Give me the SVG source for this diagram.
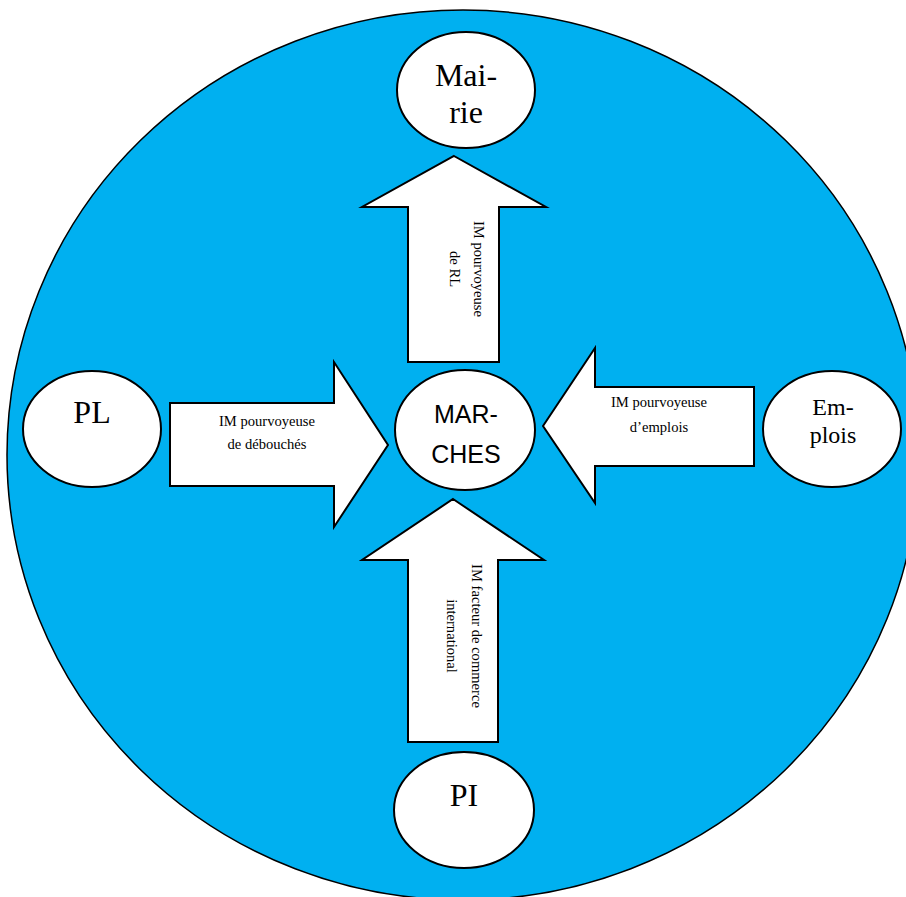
<svg xmlns="http://www.w3.org/2000/svg" width="906" height="897" viewBox="0 0 906 897">
<style>
.node{fill:#ffffff;stroke:#000000;stroke-width:2}
.arrow{fill:#ffffff;stroke:#000000;stroke-width:2;stroke-linejoin:miter}
.big{font-family:"Liberation Serif",serif;font-size:32px;fill:#000;text-anchor:middle}
.mid{font-family:"Liberation Serif",serif;font-size:24px;fill:#000;text-anchor:middle}
.sans{font-family:"Liberation Sans",Arial,sans-serif;font-size:25px;fill:#000;text-anchor:middle}
.lbl{font-family:"Liberation Serif",serif;font-size:14.6px;fill:#000;text-anchor:middle}
</style>
<rect width="906" height="897" fill="#ffffff"/>
<g id="background">
<ellipse cx="463" cy="455" rx="456" ry="445" fill="#00B0F0" stroke="#000" stroke-width="1.5"/>
</g>
<g id="connectors">
<g id="arrow-top">
<polygon class="arrow" points="454,156 546,207 499,207 499,362 408,362 408,207 362,207"/>
<g transform="translate(474,269) rotate(90)">
<text class="lbl" x="0" y="0">IM pourvoyeuse</text>
<text class="lbl" x="0" y="24">de RL</text>
</g>
</g>
<g id="arrow-left">
<polygon class="arrow" points="170,403 334,403 334,362 388,445 334,527 334,486 170,486"/>
<text class="lbl" x="267" y="426">IM pourvoyeuse</text>
<text class="lbl" x="267" y="449">de débouchés</text>
</g>
<g id="arrow-right">
<polygon class="arrow" points="543,426 595,348 595,387 754,387 754,466 595,466 595,503"/>
<text class="lbl" x="659" y="407">IM pourvoyeuse</text>
<text class="lbl" x="659" y="432">d’emplois</text>
</g>
<g id="arrow-bottom">
<polygon class="arrow" points="453,499 544,560 498,560 498,742 408,742 408,560 362,560"/>
<g transform="translate(472,636) rotate(90)">
<text class="lbl" x="0" y="0">IM facteur de commerce</text>
<text class="lbl" x="0" y="25">international</text>
</g>
</g>
</g>
<g id="mairie">
<ellipse class="node" cx="466" cy="90" rx="69" ry="58"/>
<text class="big" x="466" y="86">Mai-</text>
<text class="big" x="466" y="123">rie</text>
</g>
<g id="marches">
<ellipse class="node" cx="465" cy="430" rx="70" ry="60"/>
<text class="sans" x="466" y="423">MAR-</text>
<text class="sans" x="466" y="463">CHES</text>
</g>
<g id="pl">
<ellipse class="node" cx="92" cy="429" rx="69" ry="58"/>
<text class="big" x="92" y="423">PL</text>
</g>
<g id="emplois">
<ellipse class="node" cx="832" cy="429" rx="69" ry="58"/>
<text class="mid" x="833" y="415">Em-</text>
<text class="mid" x="833" y="443">plois</text>
</g>
<g id="pi">
<ellipse class="node" cx="464" cy="810" rx="70" ry="58"/>
<text class="big" x="464" y="806">PI</text>
</g>
</svg>
